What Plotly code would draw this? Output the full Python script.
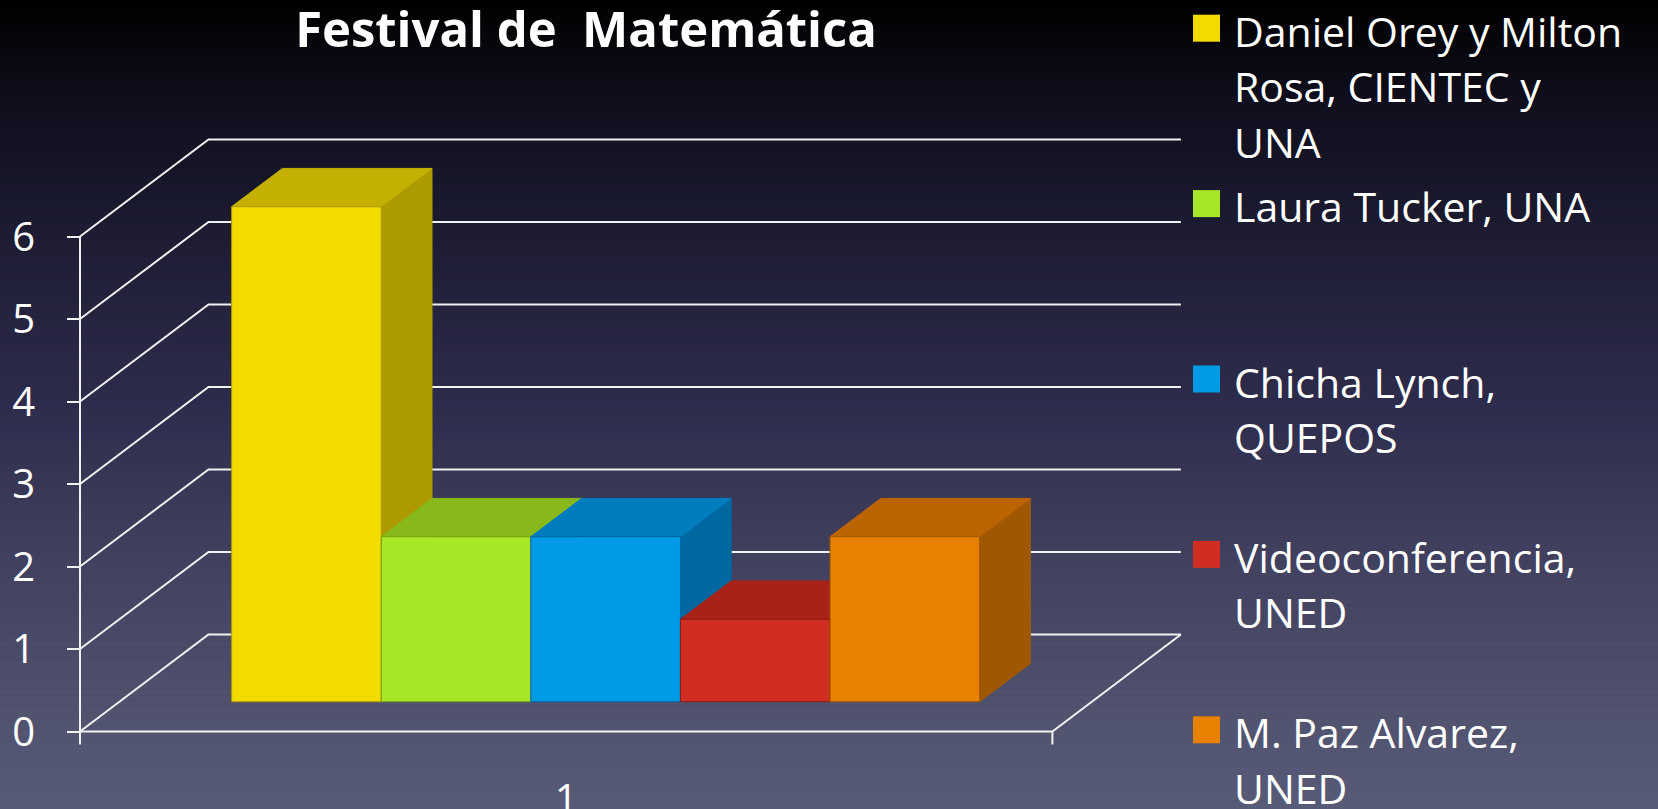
import plotly.graph_objects as go

# ---------------- data ----------------
categories = ["1"]
series_names = [
    "Daniel Orey y Milton Rosa, CIENTEC y UNA",
    "Laura Tucker, UNA",
    "Chicha Lynch, QUEPOS",
    "Videoconferencia, UNED",
    "M. Paz Alvarez, UNED",
]
values = [6, 2, 2, 1, 2]
legend_lines = [
    ["Daniel Orey y Milton", "Rosa, CIENTEC y", "UNA"],
    ["Laura Tucker, UNA"],
    ["Chicha Lynch,", "QUEPOS"],
    ["Videoconferencia,", "UNED"],
    ["M. Paz Alvarez,", "UNED"],
]
y_ticks = [0, 1, 2, 3, 4, 5, 6]
title_text = "Festival de  Matemática"

# ---------------- styles ----------------
front_colors = ["#F2DC00", "#A8E628", "#009BE6", "#D02E22", "#E88000"]
top_colors = ["#C4B000", "#88B81A", "#007DBE", "#A82218", "#BC6400"]
side_colors = ["#AD9900", "#749E14", "#0068A0", "#8A1C14", "#A05800"]
GRID_COLOR = "#F2F2F2"
FONT = "Open Sans"
FS = 41
TICK_FS = 40
TITLE_FS = 49

W, H = 1658, 809
X0_PX = 80.0       # front-left floor corner (pixels)
Y0_PX = 731.5      # floor front edge (value 0)
PX_PER_X = 149.6   # one bar width
PX_PER_Y = 82.5    # one value unit
ML, MR, MT, MB = 30, 458, 110, 49
PW = W - ML - MR
PH = H - MT - MB

n = len(values)
GAP = 0.75                      # half of the 150% gap width
floor_half = n / 2 + GAP
x_left = -floor_half
DX = 128.5 / PX_PER_X           # depth offset of floor (data units)
DY = 97.0 / PX_PER_Y
Z0, Z1 = 0.307, 0.702           # bar depth range (fraction of floor depth)
TICK = 13.0 / PX_PER_Y

xmin = x_left - (X0_PX - ML) / PX_PER_X
xmax = xmin + PW / PX_PER_X
ymin = (Y0_PX - (H - MB)) / PX_PER_Y
ymax = ymin + PH / PX_PER_Y


def paper_x(px):
    return (px - ML) / PW


def paper_y(py):
    return (H - MB - py) / PH


fig = go.Figure()

# ---------------- walls / grid ----------------
gx, gy = [], []
top_tick = max(y_ticks)
for k in y_ticks:
    gx += [x_left, x_left + DX, floor_half + DX, None]
    gy += [k, k + DY, k + DY, None]
gx += [x_left, floor_half, floor_half + DX, None]
gy += [0, 0, DY, None]
gx += [x_left, x_left, None, floor_half, floor_half, None]
gy += [-TICK, top_tick, None, 0, -TICK, None]
fig.add_trace(go.Scatter(x=gx, y=gy, mode="lines",
                         line=dict(color=GRID_COLOR, width=2),
                         hoverinfo="skip", showlegend=False))

# ---------------- 3D bars ----------------
for i, (name, v) in enumerate(zip(series_names, values)):
    x0 = -n / 2 + i
    x1 = x0 + 1
    fx0, fx1 = x0 + Z0 * DX, x1 + Z0 * DX
    bx0, bx1 = x0 + Z1 * DX, x1 + Z1 * DX
    fy, by = Z0 * DY, Z1 * DY
    # right side
    fig.add_trace(go.Scatter(
        x=[fx1, bx1, bx1, fx1, fx1], y=[fy, by, v + by, v + fy, fy],
        fill="toself", fillcolor=side_colors[i], mode="lines",
        line=dict(color=side_colors[i], width=1),
        hoverinfo="skip", showlegend=False))
    # top
    fig.add_trace(go.Scatter(
        x=[fx0, fx1, bx1, bx0, fx0], y=[v + fy, v + fy, v + by, v + by, v + fy],
        fill="toself", fillcolor=top_colors[i], mode="lines",
        line=dict(color=top_colors[i], width=1),
        hoverinfo="skip", showlegend=False))
    # front
    fig.add_trace(go.Scatter(
        x=[fx0, fx1, fx1, fx0, fx0], y=[fy, fy, v + fy, v + fy, fy],
        fill="toself", fillcolor=front_colors[i], mode="lines",
        line=dict(color=side_colors[i], width=1),
        name=name, hovertemplate=name + ": %{customdata}<extra></extra>",
        customdata=[v] * 5, showlegend=False))

# ---------------- background gradient ----------------
stops = [(0.0, (0, 0, 0)), (0.12, (14, 14, 28)), (0.3, (30, 29, 52)),
         (0.5, (46, 44, 76)), (0.7, (66, 66, 96)), (0.88, (80, 82, 110)),
         (1.0, (88, 91, 120))]


def grad(t):
    for (t0, c0), (t1, c1) in zip(stops[:-1], stops[1:]):
        if t <= t1:
            f = (t - t0) / (t1 - t0)
            return "rgb(%d,%d,%d)" % tuple(round(a + (b - a) * f) for a, b in zip(c0, c1))
    return "rgb(%d,%d,%d)" % stops[-1][1]


shapes = []
NS = 135
for s in range(NS):
    t0 = s / NS
    t1 = (s + 1) / NS
    shapes.append(dict(type="rect", xref="paper", yref="paper", layer="below",
                       x0=paper_x(-2), x1=paper_x(W + 2),
                       y0=paper_y(t0 * H - (2 if s == 0 else 0)),
                       y1=paper_y(t1 * H + (2 if s == NS - 1 else 0.6)),
                       fillcolor=grad((t0 + t1) / 2), line=dict(width=0)))

# ---------------- legend (annotations + swatches) ----------------
annotations = []
LEG_TOP = 46.7
LEG_STEP = 175.4
LINE_H = 55.5
for i, lines in enumerate(legend_lines):
    base = LEG_TOP + i * LEG_STEP
    shapes.append(dict(type="rect", xref="paper", yref="paper",
                       x0=paper_x(1193), x1=paper_x(1220),
                       y0=paper_y(base - 5), y1=paper_y(base - 32),
                       fillcolor=front_colors[i], line=dict(width=0)))
    for j, line in enumerate(lines):
        b = base + j * LINE_H
        annotations.append(dict(text=line, xref="paper", yref="paper",
                                x=paper_x(1232), y=paper_y(b - 0.388 * FS),
                                xanchor="left", yanchor="middle", showarrow=False,
                                font=dict(family=FONT, size=FS, color="white")))

fig.update_layout(
    width=W, height=H,
    margin=dict(l=ML, r=MR, t=MT, b=MB, pad=0, autoexpand=False),
    paper_bgcolor="rgb(40,40,66)",
    plot_bgcolor="rgba(0,0,0,0)",
    shapes=shapes,
    annotations=annotations,
    showlegend=False,
    title=dict(text=title_text, x=586 / W, xref="container", xanchor="center",
               y=1 - 29.5 / H, yref="container", yanchor="middle", automargin=False,
               font=dict(family=FONT, size=TITLE_FS, color="white", weight="bold")),
    xaxis=dict(range=[xmin, xmax], showgrid=False, zeroline=False, showline=False,
               automargin=False,
               tickmode="array", tickvals=[0], ticktext=categories, ticks="",
               ticklabelstandoff=12,
               tickfont=dict(family=FONT, size=TICK_FS, color="white"), fixedrange=True),
    yaxis=dict(range=[ymin, ymax], showgrid=False, zeroline=False, showline=False,
               automargin=False, anchor="free", position=paper_x(X0_PX),
               tickmode="array", tickvals=y_ticks, ticktext=[str(t) for t in y_ticks],
               ticks="outside", ticklen=13, tickwidth=2, tickcolor=GRID_COLOR,
               ticklabelstandoff=24,
               tickfont=dict(family=FONT, size=TICK_FS, color="white"), fixedrange=True),
)

fig.write_html(
    "out.html",
    config={"displayModeBar": False},
    post_script="document.body.style.margin='0';document.body.style.padding='0';"
                "document.documentElement.style.overflow='hidden';",
)
